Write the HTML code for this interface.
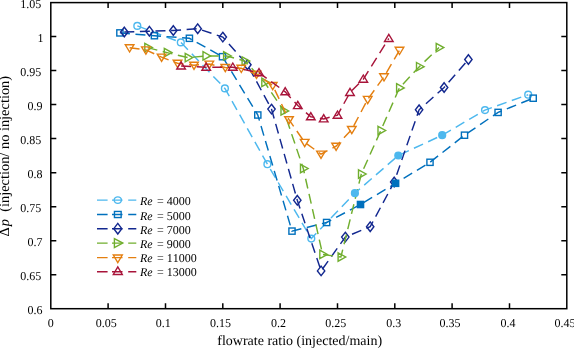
<!DOCTYPE html>
<html><head><meta charset="utf-8"><style>
html,body{margin:0;padding:0;background:#fff;overflow:hidden;}
svg{display:block;will-change:transform;}
text{font-family:"Liberation Serif",serif;fill:#000;text-rendering:geometricPrecision;font-kerning:none;}
</style></head><body>
<svg width="574" height="348" viewBox="0 0 574 348">
<rect width="574" height="348" fill="#fff"/>
<rect x="50.8" y="2.6" width="516.0" height="306.1" fill="none" stroke="#000" stroke-width="1.5"/>
<path d="M108.1 308.7V303.2M108.1 2.6V8.1M165.5 308.7V303.2M165.5 2.6V8.1M222.8 308.7V303.2M222.8 2.6V8.1M280.1 308.7V303.2M280.1 2.6V8.1M337.5 308.7V303.2M337.5 2.6V8.1M394.8 308.7V303.2M394.8 2.6V8.1M452.1 308.7V303.2M452.1 2.6V8.1M509.5 308.7V303.2M509.5 2.6V8.1M50.8 274.7H56.3M566.8 274.7H561.3M50.8 240.7H56.3M566.8 240.7H561.3M50.8 206.7H56.3M566.8 206.7H561.3M50.8 172.7H56.3M566.8 172.7H561.3M50.8 138.6H56.3M566.8 138.6H561.3M50.8 104.6H56.3M566.8 104.6H561.3M50.8 70.6H56.3M566.8 70.6H561.3M50.8 36.6H56.3M566.8 36.6H561.3" stroke="#000" stroke-width="1.5" fill="none"/>
<text x="50.75" y="327.00" font-size="12" text-anchor="middle">0</text>
<text x="106.15" y="327.00" font-size="12" text-anchor="middle">0.05</text>
<text x="163.30" y="327.00" font-size="12" text-anchor="middle">0.1</text>
<text x="220.50" y="327.00" font-size="12" text-anchor="middle">0.15</text>
<text x="278.60" y="327.00" font-size="12" text-anchor="middle">0.2</text>
<text x="335.65" y="327.00" font-size="12" text-anchor="middle">0.25</text>
<text x="393.75" y="327.00" font-size="12" text-anchor="middle">0.3</text>
<text x="449.90" y="327.00" font-size="12" text-anchor="middle">0.35</text>
<text x="508.10" y="327.00" font-size="12" text-anchor="middle">0.4</text>
<text x="564.90" y="327.00" font-size="12" text-anchor="middle">0.45</text>
<text x="42.60" y="313.80" font-size="12" text-anchor="end">0.6</text>
<text x="41.30" y="279.79" font-size="12" text-anchor="end">0.65</text>
<text x="42.60" y="245.78" font-size="12" text-anchor="end">0.7</text>
<text x="41.30" y="211.77" font-size="12" text-anchor="end">0.75</text>
<text x="42.60" y="177.76" font-size="12" text-anchor="end">0.8</text>
<text x="41.30" y="143.74" font-size="12" text-anchor="end">0.85</text>
<text x="42.60" y="109.73" font-size="12" text-anchor="end">0.9</text>
<text x="41.30" y="75.72" font-size="12" text-anchor="end">0.95</text>
<text x="43.60" y="41.71" font-size="12" text-anchor="end">1</text>
<text x="41.30" y="7.70" font-size="12" text-anchor="end">1.05</text>
<text x="299.65" y="344.90" font-size="14" text-anchor="middle">flowrate ratio (injected/main)</text>
<text transform="translate(8.80 236.40) rotate(-90)" font-size="14.3">Δ</text>
<text transform="translate(8.80 226.20) rotate(-90)" font-size="14.3" font-style="italic">p</text>
<text transform="translate(8.80 211.80) rotate(-90)" font-size="14.4">(injection/ no injection)</text>
<path d="M137.3 25.9 L180.8 42.4 L224.9 88.4 L267.4 164.2 L311.3 238.6 L354.9 193.2 L398.3 155.5 L442.2 135.2 L485.0 110.1 L528.2 94.7" fill="none" stroke="#4DB8EE" stroke-width="1.45" stroke-dasharray="10 5.6"/>
<circle cx="137.3" cy="25.9" r="3.4" fill="none" stroke="#4DB8EE" stroke-width="1.4"/>
<circle cx="180.8" cy="42.4" r="3.4" fill="none" stroke="#4DB8EE" stroke-width="1.4"/>
<circle cx="224.9" cy="88.4" r="3.4" fill="none" stroke="#4DB8EE" stroke-width="1.4"/>
<circle cx="267.4" cy="164.2" r="3.4" fill="none" stroke="#4DB8EE" stroke-width="1.4"/>
<circle cx="311.3" cy="238.6" r="3.4" fill="none" stroke="#4DB8EE" stroke-width="1.4"/>
<circle cx="485.0" cy="110.1" r="3.4" fill="none" stroke="#4DB8EE" stroke-width="1.4"/>
<circle cx="528.2" cy="94.7" r="3.4" fill="none" stroke="#4DB8EE" stroke-width="1.4"/><path d="M119.9 32.9 L154.4 35.7 L189.4 38.3 L222.5 56.7 L257.8 115.0 L292.0 231.1 L326.6 222.5 L360.5 204.5 L395.6 183.3 L430.0 162.3 L464.5 135.2 L498.1 112.4 L533.2 98.2" fill="none" stroke="#0070BD" stroke-width="1.45" stroke-dasharray="10 5.6"/>
<rect x="116.8" y="29.8" width="6.2" height="6.2" fill="none" stroke="#0070BD" stroke-width="1.4"/>
<rect x="151.3" y="32.6" width="6.2" height="6.2" fill="none" stroke="#0070BD" stroke-width="1.4"/>
<rect x="186.3" y="35.2" width="6.2" height="6.2" fill="none" stroke="#0070BD" stroke-width="1.4"/>
<rect x="219.4" y="53.6" width="6.2" height="6.2" fill="none" stroke="#0070BD" stroke-width="1.4"/>
<rect x="254.7" y="111.9" width="6.2" height="6.2" fill="none" stroke="#0070BD" stroke-width="1.4"/>
<rect x="288.9" y="228.0" width="6.2" height="6.2" fill="none" stroke="#0070BD" stroke-width="1.4"/>
<rect x="323.5" y="219.4" width="6.2" height="6.2" fill="none" stroke="#0070BD" stroke-width="1.4"/>
<rect x="426.9" y="159.2" width="6.2" height="6.2" fill="none" stroke="#0070BD" stroke-width="1.4"/>
<rect x="461.4" y="132.1" width="6.2" height="6.2" fill="none" stroke="#0070BD" stroke-width="1.4"/>
<rect x="495.0" y="109.3" width="6.2" height="6.2" fill="none" stroke="#0070BD" stroke-width="1.4"/>
<rect x="530.1" y="95.1" width="6.2" height="6.2" fill="none" stroke="#0070BD" stroke-width="1.4"/><path d="M124.3 32.0 L149.4 31.2 L173.3 30.5 L197.7 28.7 L222.8 37.1 L247.4 64.7 L271.5 109.1 L297.3 200.3 L321.1 270.9 L345.3 237.1 L370.2 226.7 L394.2 182.0 L419.1 109.8 L444.1 87.5 L468.4 59.5" fill="none" stroke="#13288F" stroke-width="1.45" stroke-dasharray="10 5.6"/>
<path d="M124.3 27.2L128.0 32.0L124.3 36.8L120.6 32.0Z" fill="none" stroke="#13288F" stroke-width="1.4"/>
<path d="M149.4 26.4L153.1 31.2L149.4 36.0L145.7 31.2Z" fill="none" stroke="#13288F" stroke-width="1.4"/>
<path d="M173.3 25.7L177.0 30.5L173.3 35.3L169.6 30.5Z" fill="none" stroke="#13288F" stroke-width="1.4"/>
<path d="M197.7 23.9L201.4 28.7L197.7 33.5L194.0 28.7Z" fill="none" stroke="#13288F" stroke-width="1.4"/>
<path d="M222.8 32.3L226.5 37.1L222.8 41.9L219.1 37.1Z" fill="none" stroke="#13288F" stroke-width="1.4"/>
<path d="M247.4 59.9L251.1 64.7L247.4 69.5L243.7 64.7Z" fill="none" stroke="#13288F" stroke-width="1.4"/>
<path d="M271.5 104.3L275.2 109.1L271.5 113.9L267.8 109.1Z" fill="none" stroke="#13288F" stroke-width="1.4"/>
<path d="M297.3 195.5L301.0 200.3L297.3 205.1L293.6 200.3Z" fill="none" stroke="#13288F" stroke-width="1.4"/>
<path d="M321.1 266.1L324.8 270.9L321.1 275.7L317.4 270.9Z" fill="none" stroke="#13288F" stroke-width="1.4"/>
<path d="M345.3 232.3L349.0 237.1L345.3 241.9L341.6 237.1Z" fill="none" stroke="#13288F" stroke-width="1.4"/>
<path d="M370.2 221.9L373.9 226.7L370.2 231.5L366.5 226.7Z" fill="none" stroke="#13288F" stroke-width="1.4"/>
<path d="M394.2 177.2L397.9 182.0L394.2 186.8L390.5 182.0Z" fill="none" stroke="#13288F" stroke-width="1.4"/>
<path d="M419.1 105.0L422.8 109.8L419.1 114.6L415.4 109.8Z" fill="none" stroke="#13288F" stroke-width="1.4"/>
<path d="M444.1 82.7L447.8 87.5L444.1 92.3L440.4 87.5Z" fill="none" stroke="#13288F" stroke-width="1.4"/>
<path d="M468.4 54.7L472.1 59.5L468.4 64.3L464.7 59.5Z" fill="none" stroke="#13288F" stroke-width="1.4"/><path d="M147.6 47.6 L167.1 52.6 L188.0 57.6 L205.8 55.9 L226.4 55.9 L244.9 61.1 L264.6 82.4 L283.8 110.9 L303.3 168.5 L322.6 254.4 L340.9 257.0 L361.3 174.0 L380.8 130.5 L399.4 87.9 L419.3 66.7 L439.0 47.6" fill="none" stroke="#70AE2E" stroke-width="1.45" stroke-dasharray="10 5.6"/>
<path d="M144.8 43.4L152.4 47.6L144.8 51.8Z" fill="none" stroke="#70AE2E" stroke-width="1.4"/>
<path d="M164.3 48.4L171.9 52.6L164.3 56.8Z" fill="none" stroke="#70AE2E" stroke-width="1.4"/>
<path d="M185.2 53.4L192.8 57.6L185.2 61.8Z" fill="none" stroke="#70AE2E" stroke-width="1.4"/>
<path d="M203.0 51.7L210.6 55.9L203.0 60.1Z" fill="none" stroke="#70AE2E" stroke-width="1.4"/>
<path d="M223.6 51.7L231.2 55.9L223.6 60.1Z" fill="none" stroke="#70AE2E" stroke-width="1.4"/>
<path d="M242.1 56.9L249.7 61.1L242.1 65.3Z" fill="none" stroke="#70AE2E" stroke-width="1.4"/>
<path d="M261.8 78.2L269.4 82.4L261.8 86.6Z" fill="none" stroke="#70AE2E" stroke-width="1.4"/>
<path d="M281.0 106.7L288.6 110.9L281.0 115.1Z" fill="none" stroke="#70AE2E" stroke-width="1.4"/>
<path d="M300.5 164.3L308.1 168.5L300.5 172.7Z" fill="none" stroke="#70AE2E" stroke-width="1.4"/>
<path d="M319.8 250.2L327.4 254.4L319.8 258.6Z" fill="none" stroke="#70AE2E" stroke-width="1.4"/>
<path d="M338.1 252.8L345.7 257.0L338.1 261.2Z" fill="none" stroke="#70AE2E" stroke-width="1.4"/>
<path d="M358.5 169.8L366.1 174.0L358.5 178.2Z" fill="none" stroke="#70AE2E" stroke-width="1.4"/>
<path d="M378.0 126.3L385.6 130.5L378.0 134.7Z" fill="none" stroke="#70AE2E" stroke-width="1.4"/>
<path d="M396.6 83.7L404.2 87.9L396.6 92.1Z" fill="none" stroke="#70AE2E" stroke-width="1.4"/>
<path d="M416.5 62.5L424.1 66.7L416.5 70.9Z" fill="none" stroke="#70AE2E" stroke-width="1.4"/>
<path d="M436.2 43.4L443.8 47.6L436.2 51.8Z" fill="none" stroke="#70AE2E" stroke-width="1.4"/><path d="M129.6 47.8 L145.9 49.9 L161.6 57.1 L177.5 63.3 L194.0 65.2 L209.3 64.1 L225.3 67.5 L241.3 68.3 L256.5 74.3 L272.7 85.5 L289.0 119.7 L304.7 142.4 L321.0 154.1 L336.1 146.2 L351.8 129.5 L367.7 99.4 L384.0 76.8 L399.5 50.3" fill="none" stroke="#E47F10" stroke-width="1.45" stroke-dasharray="10 5.6"/>
<path d="M125.3 44.8L133.9 44.8L129.6 52.0Z" fill="none" stroke="#E47F10" stroke-width="1.4"/>
<path d="M141.6 46.9L150.2 46.9L145.9 54.1Z" fill="none" stroke="#E47F10" stroke-width="1.4"/>
<path d="M157.3 54.1L165.9 54.1L161.6 61.3Z" fill="none" stroke="#E47F10" stroke-width="1.4"/>
<path d="M173.2 60.3L181.8 60.3L177.5 67.5Z" fill="none" stroke="#E47F10" stroke-width="1.4"/>
<path d="M189.7 62.2L198.3 62.2L194.0 69.4Z" fill="none" stroke="#E47F10" stroke-width="1.4"/>
<path d="M205.0 61.1L213.6 61.1L209.3 68.3Z" fill="none" stroke="#E47F10" stroke-width="1.4"/>
<path d="M221.0 64.5L229.6 64.5L225.3 71.7Z" fill="none" stroke="#E47F10" stroke-width="1.4"/>
<path d="M237.0 65.3L245.6 65.3L241.3 72.5Z" fill="none" stroke="#E47F10" stroke-width="1.4"/>
<path d="M252.2 71.3L260.8 71.3L256.5 78.5Z" fill="none" stroke="#E47F10" stroke-width="1.4"/>
<path d="M268.4 82.5L277.0 82.5L272.7 89.7Z" fill="none" stroke="#E47F10" stroke-width="1.4"/>
<path d="M284.7 116.7L293.3 116.7L289.0 123.9Z" fill="none" stroke="#E47F10" stroke-width="1.4"/>
<path d="M300.4 139.4L309.0 139.4L304.7 146.6Z" fill="none" stroke="#E47F10" stroke-width="1.4"/>
<path d="M316.7 151.1L325.3 151.1L321.0 158.3Z" fill="none" stroke="#E47F10" stroke-width="1.4"/>
<path d="M331.8 143.2L340.4 143.2L336.1 150.4Z" fill="none" stroke="#E47F10" stroke-width="1.4"/>
<path d="M347.5 126.5L356.1 126.5L351.8 133.7Z" fill="none" stroke="#E47F10" stroke-width="1.4"/>
<path d="M363.4 96.4L372.0 96.4L367.7 103.6Z" fill="none" stroke="#E47F10" stroke-width="1.4"/>
<path d="M379.7 73.8L388.3 73.8L384.0 81.0Z" fill="none" stroke="#E47F10" stroke-width="1.4"/>
<path d="M395.2 47.3L403.8 47.3L399.5 54.5Z" fill="none" stroke="#E47F10" stroke-width="1.4"/><path d="M181.1 66.0 L206.2 67.3 L232.8 67.2 L259.0 72.7 L285.2 91.8 L297.8 105.6 L310.8 116.8 L323.7 118.9 L337.5 115.2 L350.0 92.5 L363.3 79.2 L388.8 38.5" fill="none" stroke="#A8143A" stroke-width="1.45" stroke-dasharray="10 5.6"/>
<path d="M176.8 69.0L185.4 69.0L181.1 61.8Z" fill="none" stroke="#A8143A" stroke-width="1.4"/>
<path d="M201.9 70.3L210.5 70.3L206.2 63.1Z" fill="none" stroke="#A8143A" stroke-width="1.4"/>
<path d="M228.5 70.2L237.1 70.2L232.8 63.0Z" fill="none" stroke="#A8143A" stroke-width="1.4"/>
<path d="M254.7 75.7L263.3 75.7L259.0 68.5Z" fill="none" stroke="#A8143A" stroke-width="1.4"/>
<path d="M280.9 94.8L289.5 94.8L285.2 87.6Z" fill="none" stroke="#A8143A" stroke-width="1.4"/>
<path d="M293.5 108.6L302.1 108.6L297.8 101.4Z" fill="none" stroke="#A8143A" stroke-width="1.4"/>
<path d="M306.5 119.8L315.1 119.8L310.8 112.6Z" fill="none" stroke="#A8143A" stroke-width="1.4"/>
<path d="M319.4 121.9L328.0 121.9L323.7 114.7Z" fill="none" stroke="#A8143A" stroke-width="1.4"/>
<path d="M333.2 118.2L341.8 118.2L337.5 111.0Z" fill="none" stroke="#A8143A" stroke-width="1.4"/>
<path d="M345.7 95.5L354.3 95.5L350.0 88.3Z" fill="none" stroke="#A8143A" stroke-width="1.4"/>
<path d="M359.0 82.2L367.6 82.2L363.3 75.0Z" fill="none" stroke="#A8143A" stroke-width="1.4"/>
<path d="M384.5 41.5L393.1 41.5L388.8 34.3Z" fill="none" stroke="#A8143A" stroke-width="1.4"/>
<circle cx="354.9" cy="193.2" r="3.4" fill="#4DB8EE" stroke="#4DB8EE" stroke-width="1.4"/>
<circle cx="398.3" cy="155.5" r="3.4" fill="#4DB8EE" stroke="#4DB8EE" stroke-width="1.4"/>
<circle cx="442.2" cy="135.2" r="3.4" fill="#4DB8EE" stroke="#4DB8EE" stroke-width="1.4"/>
<rect x="357.4" y="201.4" width="6.2" height="6.2" fill="#0070BD" stroke="#0070BD" stroke-width="1.4"/>
<rect x="392.5" y="180.2" width="6.2" height="6.2" fill="#0070BD" stroke="#0070BD" stroke-width="1.4"/>
<path d="M97 200.1H107.6M112 200.1H122.5M128.2 200.1H136.3" stroke="#4DB8EE" stroke-width="1.45" fill="none"/>
<ellipse cx="117.8" cy="200.1" rx="3.65" ry="3.25" fill="none" stroke="#4DB8EE" stroke-width="1.4"/>
<text x="140.00" y="205.40" font-size="12" font-style="italic">Re</text>
<text x="160.50" y="205.40" font-size="12" text-anchor="middle">=</text>
<text x="166.70" y="205.40" font-size="12">4000</text>
<path d="M97 214.5H107.6M112 214.5H122.5M128.2 214.5H136.3" stroke="#0070BD" stroke-width="1.45" fill="none"/>
<rect x="114.45" y="211.45" width="6.7" height="6.1" fill="none" stroke="#0070BD" stroke-width="1.4"/>
<text x="140.00" y="219.60" font-size="12" font-style="italic">Re</text>
<text x="160.50" y="219.60" font-size="12" text-anchor="middle">=</text>
<text x="166.70" y="219.60" font-size="12">5000</text>
<path d="M97 228.7H107.6M112 228.7H122.5M128.2 228.7H136.3" stroke="#13288F" stroke-width="1.45" fill="none"/>
<path d="M117.8 223.4L121.8 228.7L117.8 234.0L113.8 228.7Z" fill="none" stroke="#13288F" stroke-width="1.4"/>
<text x="140.00" y="233.80" font-size="12" font-style="italic">Re</text>
<text x="160.50" y="233.80" font-size="12" text-anchor="middle">=</text>
<text x="166.70" y="233.80" font-size="12">7000</text>
<path d="M97 243.1H107.6M112 243.1H122.5M128.2 243.1H136.3" stroke="#70AE2E" stroke-width="1.45" fill="none"/>
<path d="M114.4 238.6L122.8 243.1L114.4 247.6Z" fill="none" stroke="#70AE2E" stroke-width="1.4"/>
<text x="140.00" y="248.00" font-size="12" font-style="italic">Re</text>
<text x="160.50" y="248.00" font-size="12" text-anchor="middle">=</text>
<text x="166.70" y="248.00" font-size="12">9000</text>
<path d="M97 257.6H107.6M112 257.6H122.5M128.2 257.6H136.3" stroke="#E47F10" stroke-width="1.45" fill="none"/>
<path d="M113.3 255.0L122.3 255.0L117.8 262.6Z" fill="none" stroke="#E47F10" stroke-width="1.4"/>
<text x="140.00" y="262.20" font-size="12" font-style="italic">Re</text>
<text x="160.50" y="262.20" font-size="12" text-anchor="middle">=</text>
<text x="166.70" y="262.20" font-size="12">11000</text>
<path d="M97 271.7H107.6M112 271.7H122.5M128.2 271.7H136.3" stroke="#A8143A" stroke-width="1.45" fill="none"/>
<path d="M113.3 274.5L122.3 274.5L117.8 266.8Z" fill="none" stroke="#A8143A" stroke-width="1.4"/>
<text x="140.00" y="276.40" font-size="12" font-style="italic">Re</text>
<text x="160.50" y="276.40" font-size="12" text-anchor="middle">=</text>
<text x="166.70" y="276.40" font-size="12">13000</text>
</svg>
</body></html>
